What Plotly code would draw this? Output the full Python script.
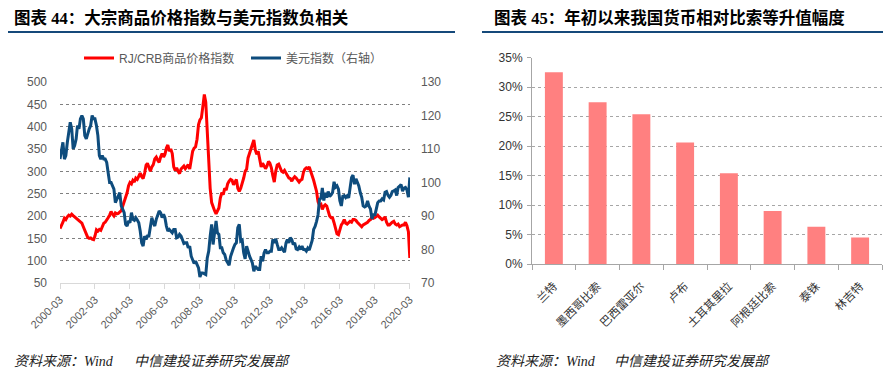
import pandas as pd
import plotly.graph_objects as go

# ---------------- data: left panel (monthly, 2000-03 .. 2020-03) ----------------
dates = pd.date_range("2000-03-01", "2020-03-01", freq="MS")

crb_index = [
    172, 178, 186, 195, 192, 198, 202, 200, 204, 201,
    198, 196, 194, 190, 188, 184, 176, 168, 160, 152, 150, 151,
    148, 147, 155, 169, 166, 170, 168, 176, 184, 186, 190, 196,
    202, 210, 204, 200, 207, 205, 206, 209, 212, 222, 232, 240,
    252, 268, 275, 272, 280, 276, 285, 282, 290, 296, 288, 284,
    296, 314, 318, 306, 300, 310, 315, 328, 332, 325, 320, 332,
    340, 332, 338, 352, 359, 345, 350, 340, 310, 302, 308, 300,
    295, 305, 308, 312, 306, 310, 315, 305, 328, 345, 352, 355,
    372, 405, 415, 420, 445, 472, 455, 385, 350, 262, 230, 218,
    212, 205, 212, 218, 240, 252, 248, 262, 258, 272, 278, 282,
    280, 270, 275, 282, 262, 255, 262, 272, 285, 300, 305, 330,
    340, 352, 358, 370, 348, 338, 345, 330, 310, 318, 312, 306,
    312, 322, 318, 308, 290, 276, 300, 314, 316, 306, 300, 298,
    302, 296, 292, 285, 284, 278, 284, 288, 285, 280, 276, 280,
    282, 298, 305, 308, 306, 310, 298, 290, 280, 270, 255, 232,
    224, 226, 215, 222, 225, 222, 208, 200, 196, 196, 185, 175,
    160, 158, 170, 180, 185, 192, 184, 182, 185, 188, 186, 192,
    192, 190, 186, 182, 180, 176, 180, 182, 184, 186, 190, 192,
    198, 195, 196, 200, 202, 198, 194, 192, 194, 198, 186, 180,
    180, 184, 186, 188, 182, 180, 182, 176, 178, 180, 180, 186,
    178, 165, 106,
]

usd_index = [
    107, 110, 112, 107, 108, 112, 115, 118, 116, 110,
    111, 113, 117, 116, 119, 120, 119, 114, 113, 115, 116, 117,
    120, 119, 119, 117, 114, 108, 107, 108, 107, 107, 106, 103,
    100, 100, 99, 98, 94, 95, 96, 97, 93, 92, 91, 87.5,
    87, 88.5, 88, 91, 89, 88.7, 89.5, 88.8, 88, 85.5, 82, 81,
    84, 83, 84, 84, 87, 89.5, 88, 87, 89, 90, 91.5, 91,
    89.5, 90.5, 89.5, 87, 85.5, 86, 85.5, 85, 86, 86, 83.5, 83.7,
    84.5, 84, 83, 81.8, 82, 82, 80.5, 81, 78, 76.8, 75.8, 76.5,
    75.5, 74.5, 71.8, 73, 73, 72.8, 72.5, 77.5, 79.5, 84, 87.5, 81.5,
    85.5, 88.5, 85, 84.5, 80.5, 80.5, 79, 78.5, 76.8, 76, 75.3, 77.9,
    79.5, 80.5, 81.5, 82, 86.5, 87.5, 82.5, 82.8, 79, 77.2, 81, 79,
    78, 77, 76, 73.5, 75, 74.5, 74, 74, 78, 76.5, 79, 80,
    79, 79, 79.5, 79.5, 83, 82, 83.2, 81.5, 80, 80, 80.5, 79.8,
    79.2, 82, 83, 82, 83.5, 83, 81.5, 82, 80.2, 80, 80.7, 80,
    81, 80, 80, 79.5, 80.4, 79.8, 81.5, 82.7, 86, 86.9, 88.4, 90.3,
    95, 95.3, 98.4, 94.6, 96.9, 95.5, 97.3, 95.8, 96.3, 97, 100.2, 98.6,
    99, 98, 94.6, 93, 95.9, 96.1, 95.5, 96, 95.4, 98.5, 101.5, 102.2,
    99.5, 101.1, 100.3, 99, 97, 95.6, 93, 92.7, 93, 94.5, 92.9, 92.1,
    89.1, 90.6, 90.1, 91.8, 94, 94.5, 94.5, 95.1, 94.8, 97.1, 97.3, 96.2,
    95.6, 96.2, 97.3, 97.5, 97.8, 96.1, 98.5, 98.9, 99.4, 97.4, 98.3, 98.5,
    97.8, 95.6, 101.5,
]

xtick_vals = [f"{y}-03-01" for y in range(2000, 2021, 2)]
xtick_text = [f"{y}-03" for y in range(2000, 2021, 2)]

# ---------------- data: right panel ----------------
currencies = ["兰特", "墨西哥比索", "巴西雷亚尔", "卢布", "土耳其里拉", "阿根廷比索", "泰铢", "林吉特"]
appreciation = [32.5, 27.4, 25.4, 20.6, 15.4, 9.0, 6.3, 4.5]

# page has an 8px body margin: size the figure to the visible area and
# express positions in window pixels
OFF = 8
W, H = 891 - OFF, 380 - OFF
def px(v):
    return (v - OFF) / W
def py(v):
    return 1 - (v - OFF) / H

SANS = "Liberation Sans, Noto Sans CJK SC, sans-serif"
TITLE_FONT = "Liberation Serif, Noto Sans CJK SC, serif"

fig = go.Figure()

fig.add_trace(go.Scatter(
    x=dates, y=crb_index, name="RJ/CRB商品价格指数", mode="lines",
    line=dict(color="#FF0000", width=3), xaxis="x", yaxis="y",
))
fig.add_trace(go.Scatter(
    x=dates, y=usd_index, name="美元指数（右轴）", mode="lines",
    line=dict(color="#0E4C7D", width=3), xaxis="x", yaxis="y2",
))
fig.add_trace(go.Bar(
    x=currencies, y=appreciation, marker=dict(color="#FF8080", line=dict(width=0)),
    showlegend=False, xaxis="x2", yaxis="y3",
))

fig.update_layout(
    width=W, height=H, autosize=False,
    margin=dict(l=0, r=0, t=0, b=0, pad=0, autoexpand=False),
    paper_bgcolor="white", plot_bgcolor="white",
    bargap=0.59,
    xaxis=dict(
        domain=[px(60), px(410)], type="date", anchor="y", automargin=False,
        range=["2000-03-01", "2020-03-05"],
        tickmode="array", tickvals=xtick_vals, ticktext=xtick_text,
        tickangle=-45, ticks="outside", ticklen=5, tickcolor="#d9d9d9",
        showline=True, linecolor="#d9d9d9", linewidth=1,
        showgrid=False, zeroline=False,
        tickfont=dict(size=11, color="#595959", family=SANS),
    ),
    yaxis=dict(
        domain=[py(283), py(82)], anchor="x", range=[50, 500], dtick=50, automargin=False,
        showgrid=True, gridcolor="#808080", griddash="dot", gridwidth=1,
        zeroline=False, showline=False, ticks="", ticklabelstandoff=12,
        tickfont=dict(size=12, color="#595959", family=SANS),
    ),
    yaxis2=dict(
        overlaying="y", side="right", anchor="x", range=[70, 130], dtick=10, automargin=False,
        showgrid=False, zeroline=False, showline=False, ticks="", ticklabelstandoff=10,
        tickfont=dict(size=12, color="#595959", family=SANS),
    ),
    xaxis2=dict(
        domain=[px(532), px(882)], anchor="y3", type="category", automargin=False,
        tickangle=-45, ticks="outside", tickson="boundaries", ticklen=5,
        tickcolor="#a6a6a6", showline=True, linecolor="#a6a6a6", linewidth=1,
        showgrid=False, zeroline=False, ticklabelstandoff=10,
        tickfont=dict(size=11.5, color="#333333", family=SANS),
    ),
    yaxis3=dict(
        domain=[py(264), py(57.5)], anchor="x2", range=[0, 35], dtick=5, automargin=False,
        ticksuffix="%", showgrid=True, gridcolor="#a6a6a6", griddash="dot",
        showline=True, linecolor="#a6a6a6", ticks="outside", ticklen=4,
        tickcolor="#a6a6a6", zeroline=False, ticklabelstandoff=2,
        tickfont=dict(size=12, color="#333333", family=SANS),
    ),
    legend=dict(
        orientation="h", x=px(79), xanchor="left", y=py(58), yanchor="middle",
        font=dict(size=12, color="#595959", family=SANS),
        bgcolor="rgba(0,0,0,0)", itemwidth=30, tracegroupgap=0,
        entrywidth=122, entrywidthmode="pixels",
    ),
    shapes=[
        dict(type="line", xref="paper", yref="paper", x0=px(2), x1=px(455),
             y0=py(32), y1=py(32), line=dict(color="#15497A", width=2)),
        dict(type="line", xref="paper", yref="paper", x0=px(482), x1=1,
             y0=py(32), y1=py(32), line=dict(color="#15497A", width=2)),
    ],
    annotations=[
        dict(text="<b>图表 44：大宗商品价格指数与美元指数负相关</b>", xref="paper", yref="paper",
             x=px(12), y=py(18), xanchor="left", yanchor="middle", showarrow=False,
             font=dict(size=16.5, color="#000000", family=TITLE_FONT)),
        dict(text="<b>图表 45：年初以来我国货币相对比索等升值幅度</b>", xref="paper", yref="paper",
             x=px(492), y=py(18), xanchor="left", yanchor="middle", showarrow=False,
             font=dict(size=16.5, color="#000000", family=TITLE_FONT)),
        dict(text="资料来源：Wind", xref="paper", yref="paper",
             x=px(12), y=py(361), xanchor="left", yanchor="middle", showarrow=False,
             font=dict(size=14, color="#222222", family=TITLE_FONT, style="italic")),
        dict(text="中信建投证券研究发展部", xref="paper", yref="paper",
             x=px(132), y=py(361), xanchor="left", yanchor="middle", showarrow=False,
             font=dict(size=14, color="#222222", family=TITLE_FONT, style="italic")),
        dict(text="资料来源：Wind", xref="paper", yref="paper",
             x=px(494), y=py(361), xanchor="left", yanchor="middle", showarrow=False,
             font=dict(size=14, color="#222222", family=TITLE_FONT, style="italic")),
        dict(text="中信建投证券研究发展部", xref="paper", yref="paper",
             x=px(612), y=py(361), xanchor="left", yanchor="middle", showarrow=False,
             font=dict(size=14, color="#222222", family=TITLE_FONT, style="italic")),
    ],
)

fig.write_html("out.html")
